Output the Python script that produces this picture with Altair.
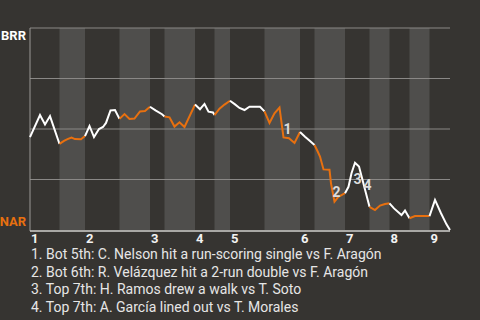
import altair as alt
import pandas as pd

# ---- data (x = play index along the game, y = BRR win probability %) ----
play_x = [0, 2, 3, 4, 5.9, 6.8, 7.5, 8.3, 9, 10.2, 11, 11.9, 12.8, 13.8, 14.6, 15.2,
          16.1, 17, 17.9, 18.9, 19.9, 20.9, 22, 23, 24, 25.1, 26.4, 26.9, 27.9, 28.9,
          29.9, 30.9, 33, 34, 34.9, 35.7, 36.6, 36.9, 37.9, 38.9, 40, 41, 41.9, 42.9,
          43.9, 46, 46.9, 47.9, 48.9, 49.9, 50.7, 51.8, 52.9, 54, 55, 56, 56.9, 57.4,
          58, 58.7, 59.9, 60.2, 60.9, 61.7, 62.3, 63, 63.7, 64.3, 65, 65.8, 67.9, 69,
          70, 71, 71.9, 72.8, 74.3, 75, 75.9, 77, 79.9, 81, 82.2, 83.3, 84]
win_pct = [46.0, 56.9, 52.2, 56.4, 42.6, 44.1, 45.0, 45.8, 45.0, 44.9, 46.5, 51.5, 46.0,
           50.0, 51.0, 53.0, 59.2, 59.4, 55.0, 57.4, 55.0, 55.2, 58.7, 58.9, 61.0, 59.2,
           57.3, 56.2, 55.8, 51.2, 53.3, 51.0, 62.1, 59.8, 62.4, 58.6, 58.2, 56.9, 60.1,
           62.1, 64.0, 62.2, 60.4, 59.4, 61.0, 61.0, 58.7, 53.0, 57.8, 60.6, 45.8, 45.4,
           43.1, 48.5, 46.2, 44.1, 42.1, 39.6, 36.4, 30.0, 29.8, 23.1, 14.0, 16.5, 17.3,
           18.2, 21.4, 28.1, 33.3, 31.4, 11.5, 9.9, 12.1, 12.9, 13.2, 10.7, 7.4, 9.6,
           5.8, 6.9, 6.9, 14.9, 8.3, 2.8, 0.0]
half_bounds = [0, 5.9, 11, 17.9, 24, 26.9, 33, 36.9, 40, 46.9, 54, 56.9, 63, 67.9,
               71.9, 75.9, 79.9, 84]
inning_start = [0, 11, 24, 33, 40, 54, 63, 71.9, 79.9]
inning_labels = ["1", "2", "3", "4", "5", "6", "7", "8", "9"]
event_x = [51.5, 61.3, 65.5, 67.5]
event_y = [49.5, 18.5, 24.8, 21.8]
event_labels = ["1", "2", "3", "4"]
notes = [
    "1. Bot 5th: C. Nelson hit a run-scoring single vs F. Aragón",
    "2. Bot 6th: R. Velázquez hit a 2-run double vs F. Aragón",
    "3. Top 7th: H. Ramos drew a walk vs T. Soto",
    "4. Top 7th: A. García lined out vs T. Morales",
]
team_top = "BRR"
team_bottom = "NAR"

BG = "#363431"
BAND = "#4f4e4c"
ORANGE = "#e8700f"
FONT = "Roboto"
W, H = 420, 202

# ---- tables ----
line_rows = []
for h in range(len(half_bounds) - 1):
    lo, hi = half_bounds[h], half_bounds[h + 1]
    for x, y in zip(play_x, win_pct):
        if lo - 1e-9 <= x <= hi + 1e-9:
            line_rows.append({"x": x, "y": y, "half": h,
                              "side": "top" if h % 2 == 0 else "bot"})
line_df = pd.DataFrame(line_rows)

band_df = pd.DataFrame([
    {"x": half_bounds[h], "x2": half_bounds[h + 1]}
    for h in range(1, len(half_bounds) - 1, 2)
])
inn_df = pd.DataFrame({"x": inning_start, "label": inning_labels})
ev_df = pd.DataFrame({"x": event_x, "y": event_y, "label": event_labels})

xs = alt.Scale(domain=[0, 84], nice=False, zero=False)
ys = alt.Scale(domain=[0, 100], nice=False, zero=False)

bands = alt.Chart(band_df).mark_rect(color=BAND).encode(
    x=alt.X("x:Q", scale=xs, axis=None),
    x2="x2:Q",
    y=alt.value(0),
    y2=alt.value(H),
)

grid = alt.Chart(pd.DataFrame({"g": [25, 50, 75, 100]})).mark_rule(
    color="#8a8886", strokeWidth=1
).encode(
    y=alt.Y("g:Q", scale=ys, axis=None),
    x=alt.value(0), x2=alt.value(W),
)

left_axis = alt.Chart(pd.DataFrame({"g": [0]})).mark_rule(
    color="#9a9896", strokeWidth=1
).encode(x=alt.value(0), y=alt.value(0), y2=alt.value(H + 1))

bottom_axis = alt.Chart(pd.DataFrame({"g": [0]})).mark_rule(
    color="#d0cfcd", strokeWidth=1.5
).encode(x=alt.value(0), x2=alt.value(W), y=alt.value(H + 1))

lines = alt.Chart(line_df).mark_line(strokeWidth=2, strokeJoin="miter").encode(
    x=alt.X("x:Q", scale=xs, axis=None),
    y=alt.Y("y:Q", scale=ys, axis=None),
    detail="half:N",
    order="x:Q",
    color=alt.Color("side:N", legend=None,
                    scale=alt.Scale(domain=["top", "bot"], range=["#ffffff", ORANGE])),
)

events = alt.Chart(ev_df).mark_text(
    font=FONT, fontSize=14, fontWeight="bold", color="#dcdcdc",
    align="center", baseline="middle"
).encode(
    x=alt.X("x:Q", scale=xs, axis=None),
    y=alt.Y("y:Q", scale=ys, axis=None),
    text="label:N",
)

innings = alt.Chart(inn_df).mark_text(
    font=FONT, fontSize=13, fontWeight="bold", color="#f2f2f2",
    align="left", baseline="alphabetic", dx=1
).encode(
    x=alt.X("x:Q", scale=xs, axis=None),
    y=alt.value(H + 12.7),
    text="label:N",
)

brr = alt.Chart(pd.DataFrame({"t": [team_top]})).mark_text(
    font=FONT, fontSize=13, fontWeight="bold", color="#ffffff",
    align="right", baseline="alphabetic"
).encode(x=alt.value(-4), y=alt.value(12), text="t:N")

nar = alt.Chart(pd.DataFrame({"t": [team_bottom]})).mark_text(
    font=FONT, fontSize=13, fontWeight="bold", color=ORANGE,
    align="right", baseline="alphabetic"
).encode(x=alt.value(-4), y=alt.value(H - 4), text="t:N")

note_text = alt.Chart(pd.DataFrame({"t": [0]})).mark_text(
    font=FONT, fontSize=14, color="#e6e6e6", align="left",
    baseline="alphabetic", lineHeight=17.7
).encode(x=alt.value(1), y=alt.value(231), text=alt.value(notes))

chart = alt.layer(
    bands, grid, left_axis, bottom_axis, lines, events, innings, brr, nar, note_text
).properties(
    width=W, height=H,
    autosize=alt.AutoSizeParams(type="none"),
    padding={"left": 30, "top": 28, "right": 30, "bottom": 90},
    background=BG,
).configure_view(stroke=None)

chart.save("out.html", embed_options={"renderer": "svg", "actions": False})
